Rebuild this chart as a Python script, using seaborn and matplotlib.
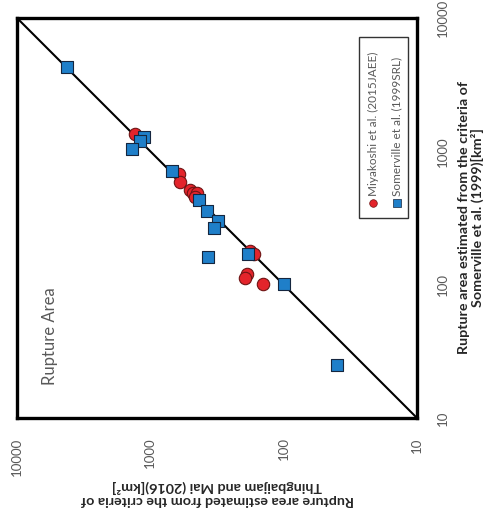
import pandas as pd
import matplotlib
matplotlib.use("Agg")
import matplotlib.pyplot as plt
import matplotlib.ticker as mticker
from matplotlib.patches import Rectangle
import seaborn as sns

# Values (km^2)
# thingbaijam = Thingbaijam and Mai (2016), somerville = Somerville et al. (1999)
miyakoshi_thingbaijam = [1300, 610, 600, 505, 480, 450, 462, 180, 167, 188, 195, 143]
miyakoshi_somerville = [1350, 677, 590, 513, 488, 488, 455, 180, 170, 120, 112, 101]

somerville_thingbaijam = [4200, 1115, 1195, 1370, 687, 431, 376, 311, 333, 369, 185, 99, 40]
somerville_somerville = [4300, 1280, 1197, 1042, 713, 432, 357, 301, 266, 161, 170, 101, 25]

series_labels = ["Miyakoshi et al. (2015JAEE)", "Somerville et al. (1999SRL)"]
tick_values = [10, 100, 1000, 10000]

df = pd.concat([
    pd.DataFrame({"thingbaijam": miyakoshi_thingbaijam,
                  "somerville": miyakoshi_somerville,
                  "source": series_labels[0]}),
    pd.DataFrame({"thingbaijam": somerville_thingbaijam,
                  "somerville": somerville_somerville,
                  "source": series_labels[1]}),
])

sns.set_theme(style="white")
plt.rcParams["font.family"] = ["Lato", "DejaVu Sans"]

gray = "#595959"
red, red_edge = "#e3242b", "#6e1414"
blue, blue_edge = "#1f7fc9", "#15263f"

fig = plt.figure(figsize=(4.89, 5.17), dpi=100)
ax = fig.add_axes([17 / 489, 99 / 517, 400 / 489, 400 / 517])

# the page is turned: Thingbaijam runs along the bottom (reversed), Somerville up the right side
ax.set_xscale("log")
ax.set_yscale("log")
ax.set_xlim(10000, 10)
ax.set_ylim(10, 10000)

ax.plot(tick_values, tick_values, color="black", lw=1.5, zorder=1)

sns.scatterplot(data=df[df["source"] == series_labels[0]], x="thingbaijam", y="somerville",
                marker="o", s=80, color=red, edgecolor=red_edge, linewidth=0.8,
                legend=False, ax=ax, zorder=2)
sns.scatterplot(data=df[df["source"] == series_labels[1]], x="thingbaijam", y="somerville",
                marker="s", s=75, color=blue, edgecolor=blue_edge, linewidth=0.8,
                legend=False, ax=ax, zorder=3)

ax.yaxis.tick_right()
for axis in (ax.xaxis, ax.yaxis):
    axis.set_major_locator(mticker.FixedLocator(tick_values))
    axis.set_major_formatter(mticker.FixedFormatter([str(v) for v in tick_values]))
    axis.set_minor_locator(mticker.NullLocator())
ax.tick_params(axis="x", length=0, pad=14, labelsize=9.5, labelcolor=gray, labelrotation=90)
ax.tick_params(axis="y", length=0, pad=14, labelsize=9.5, labelcolor=gray, labelrotation=90)
for lab in ax.get_yticklabels():
    lab.set_verticalalignment("center")
ax.set_xlabel("")
ax.set_ylabel("")

for sp in ax.spines.values():
    sp.set_visible(True)
    sp.set_color("black")
    sp.set_linewidth(2.4)

ax.text(0.0825, 0.0825, "Rupture Area", transform=ax.transAxes, rotation=90,
        ha="center", va="bottom", fontsize=12, color=gray)

# legend box, turned with the page
ax.add_patch(Rectangle((0.855, 0.5), 0.1225, 0.4525, transform=ax.transAxes,
                       facecolor="white", edgecolor="#333333", lw=1.0, zorder=4))
ax.scatter([0.89], [0.5375], transform=ax.transAxes, marker="o", s=30,
           color=red, edgecolor=red_edge, linewidth=0.5, zorder=5)
ax.scatter([0.95], [0.5375], transform=ax.transAxes, marker="s", s=28,
           color=blue, edgecolor=blue_edge, linewidth=0.5, zorder=5)
for xpos, lab in zip([0.89, 0.95], series_labels):
    ax.text(xpos, 0.555, lab, transform=ax.transAxes, rotation=90,
            ha="center", va="bottom", fontsize=8.5, color=gray, zorder=5)

fig.text(217 / 489, 1 - 493 / 517,
         "Rupture area estimated from the criteria of\nThingbaijam and Mai (2016)[km²]",
         rotation=180, ha="center", va="center", fontsize=10.3, fontweight="bold",
         linespacing=1.05)
fig.text(471 / 489, 1 - 218 / 517,
         "Rupture area estimated from the criteria of\nSomerville et al. (1999)[km²]",
         rotation=90, ha="center", va="center", fontsize=10.3, fontweight="bold",
         linespacing=1.05)

fig.savefig("out.png", dpi=100)
